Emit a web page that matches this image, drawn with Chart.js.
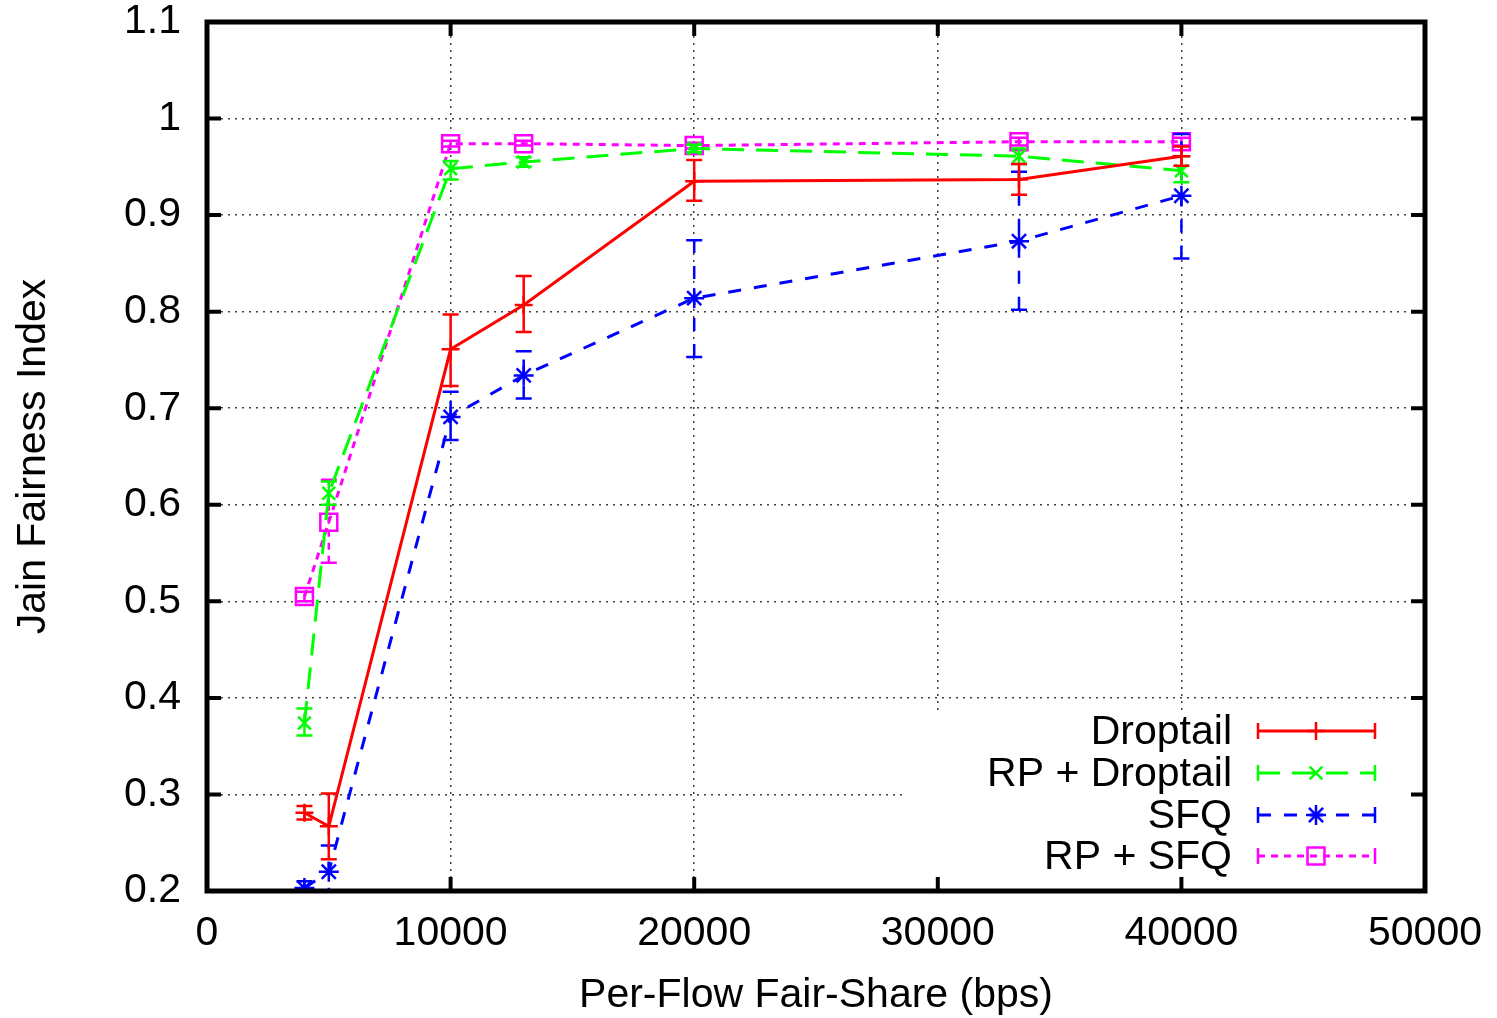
<!DOCTYPE html>
<html>
<head>
<meta charset="utf-8">
<script src="https://cdn.jsdelivr.net/npm/chart.js@4/dist/chart.umd.min.js"></script>
<style>
  html, body { margin: 0; padding: 0; background: #fff; }
  #wrap { width: 1497px; height: 1018px; }
</style>
</head>
<body>
<div id="wrap"><canvas id="chart"></canvas></div>
<script>
// Per-flow fair share (bps), x positions of all series
const fairShare = [4000, 5000, 10000, 13000, 20000, 33333, 40000];

// Droptail
const droptail   = [0.281, 0.267, 0.761, 0.807, 0.935, 0.937, 0.961];
const droptailLo = [0.274, 0.233, 0.723, 0.779, 0.915, 0.921, 0.951];
const droptailHi = [0.288, 0.301, 0.797, 0.837, 0.957, 0.953, 0.971];

// RP + Droptail
const rpDroptail   = [0.374, 0.612, 0.948, 0.955, 0.969, 0.961, 0.946];
const rpDroptailLo = [0.361, 0.600, 0.937, 0.950, 0.965, 0.953, 0.934];
const rpDroptailHi = [0.389, 0.624, 0.956, 0.960, 0.973, 0.969, 0.961];

// SFQ
const sfq   = [0.203, 0.220, 0.691, 0.734, 0.814, 0.873, 0.920];
const sfqLo = [0.196, 0.190, 0.667, 0.710, 0.753, 0.802, 0.855];
const sfqHi = [0.210, 0.247, 0.717, 0.759, 0.874, 0.945, 0.984];

// RP + SFQ
const rpSfq   = [0.505, 0.582, 0.974, 0.974, 0.972, 0.976, 0.976];
const rpSfqLo = [0.500, 0.540, 0.971, 0.972, 0.969, 0.972, 0.972];
const rpSfqHi = [0.510, 0.626, 0.977, 0.977, 0.975, 0.980, 0.980];

const seriesNames = ['Droptail', 'RP + Droptail', 'SFQ', 'RP + SFQ'];

const FONT = '"Liberation Sans", Arial, Helvetica, sans-serif';

function toPoints(ys) {
    return fairShare.map((x, i) => ({ x: x, y: ys[i] }));
}

function makeSet(label, ys, lo, hi, color, dash, style, radius) {
    return {
        label: label,
        data: toPoints(ys),
        errLo: lo,
        errHi: hi,
        borderColor: color,
        backgroundColor: color,
        borderWidth: 3,
        borderDash: dash,
        pointStyle: style,
        pointRadius: radius,
        pointHoverRadius: radius,
        pointBorderColor: color,
        pointBackgroundColor: 'rgba(0,0,0,0)',
        pointBorderWidth: 2.5,
        tension: 0,
        fill: false
    };
}

// error bars, drawn right after each line
const errorBars = {
    id: 'errorBars',
    afterDatasetDraw(chart, args) {
        const ds = chart.data.datasets[args.index];
        const { ctx, chartArea } = chart;
        const xs = chart.scales.x, ys = chart.scales.y;
        ctx.save();
        ctx.beginPath();
        ctx.rect(chartArea.left, chartArea.top, chartArea.right - chartArea.left, chartArea.bottom - chartArea.top);
        ctx.clip();
        ctx.strokeStyle = ds.borderColor;
        ctx.lineWidth = 2.5;
        ds.data.forEach((p, i) => {
            const x = xs.getPixelForValue(p.x);
            const y1 = ys.getPixelForValue(ds.errLo[i]);
            const y2 = ys.getPixelForValue(ds.errHi[i]);
            ctx.setLineDash(ds.borderDash || []);
            ctx.beginPath();
            ctx.moveTo(x, y1);
            ctx.lineTo(x, y2);
            ctx.stroke();
            ctx.setLineDash([]);
            ctx.beginPath();
            ctx.moveTo(x - 8, y1); ctx.lineTo(x + 8, y1);
            ctx.moveTo(x - 8, y2); ctx.lineTo(x + 8, y2);
            ctx.stroke();
        });
        ctx.restore();
    }
};

// frame, inner tick marks, key box
const frame = {
    id: 'frame',
    beforeDatasetsDraw(chart) {
        const { ctx, chartArea } = chart;
        // key area hides the grid
        ctx.save();
        ctx.fillStyle = '#fff';
        ctx.fillRect(903, 710, chartArea.right - 903, chartArea.bottom - 710);
        ctx.restore();
    },
    afterDraw(chart) {
        const { ctx, chartArea } = chart;
        const { left, right, top, bottom } = chartArea;
        ctx.save();
        ctx.strokeStyle = '#000';
        ctx.lineWidth = 4;
        ctx.setLineDash([]);
        ctx.beginPath();
        chart.scales.y.ticks.forEach(t => {
            const y = chart.scales.y.getPixelForValue(t.value);
            ctx.moveTo(left, y); ctx.lineTo(left + 14, y);
            ctx.moveTo(right, y); ctx.lineTo(right - 14, y);
        });
        chart.scales.x.ticks.forEach(t => {
            const x = chart.scales.x.getPixelForValue(t.value);
            ctx.moveTo(x, bottom); ctx.lineTo(x, bottom - 14);
            ctx.moveTo(x, top); ctx.lineTo(x, top + 14);
        });
        ctx.stroke();
        ctx.lineWidth = 5;
        ctx.strokeRect(left, top, right - left, bottom - top);

        // key
        const rowY = [731, 773, 815, 856];
        const textRight = 1232, x0 = 1258, x1 = 1375, xm = 1316;
        ctx.font = '41px ' + FONT;
        ctx.textAlign = 'right';
        ctx.textBaseline = 'middle';
        chart.data.datasets.forEach((ds, i) => {
            const y = rowY[i];
            ctx.fillStyle = '#000';
            ctx.fillText(ds.label, textRight, y + 2);
            ctx.strokeStyle = ds.borderColor;
            ctx.lineWidth = 3;
            ctx.setLineDash(ds.borderDash || []);
            ctx.beginPath();
            ctx.moveTo(x0, y); ctx.lineTo(x1, y);
            ctx.stroke();
            ctx.setLineDash([]);
            ctx.lineWidth = 2.5;
            ctx.beginPath();
            ctx.moveTo(x0, y - 8); ctx.lineTo(x0, y + 8);
            ctx.moveTo(x1, y - 8); ctx.lineTo(x1, y + 8);
            ctx.stroke();
            ctx.fillStyle = 'rgba(0,0,0,0)';
            Chart.helpers.drawPoint(ctx, {
                pointStyle: ds.pointStyle,
                radius: ds.pointRadius,
                borderWidth: 2.5,
                rotation: 0
            }, xm, y);
        });
        ctx.restore();
    }
};

const ctx = document.getElementById('chart').getContext('2d');
const chart = new Chart(ctx, {
    type: 'line',
    data: {
        datasets: [
            makeSet(seriesNames[0], droptail, droptailLo, droptailHi, '#ff0000', [], 'cross', 9),
            makeSet(seriesNames[1], rpDroptail, rpDroptailLo, rpDroptailHi, '#00ff00', [22, 12], 'crossRot', 9),
            makeSet(seriesNames[2], sfq, sfqLo, sfqHi, '#0000ff', [13, 13], 'star', 10),
            makeSet(seriesNames[3], rpSfq, rpSfqLo, rpSfqHi, '#ff00ff', [7, 6], 'rect', 12)
        ]
    },
    options: {
        responsive: true,
        maintainAspectRatio: false,
        animation: false,
        layout: { padding: 0 },
        plugins: {
            legend: { display: false },
            tooltip: { enabled: false }
        },
        scales: {
            x: {
                type: 'linear',
                min: 0,
                max: 50000,
                afterFit: s => {
                    s.height = 127;
                    s.paddingLeft = 0;
                    s.paddingRight = 72;
                },
                ticks: {
                    stepSize: 10000,
                    padding: 18,
                    color: '#000',
                    font: { family: FONT, size: 41 },
                    maxRotation: 0,
                    callback: v => String(v)
                },
                grid: {
                    color: 'rgba(0,0,0,0.75)',
                    lineWidth: 1.5,
                    drawTicks: false
                },
                border: { display: false, dash: [2, 5] },
                title: {
                    display: true,
                    text: 'Per-Flow Fair-Share (bps)',
                    color: '#000',
                    font: { family: FONT, size: 41, lineHeight: 1.1 },
                    padding: 0
                }
            },
            y: {
                min: 0.2,
                max: 1.1,
                afterFit: s => {
                    s.width = 207;
                    s.paddingTop = 22;
                    s.paddingBottom = 0;
                },
                ticks: {
                    stepSize: 0.1,
                    padding: 26,
                    color: '#000',
                    font: { family: FONT, size: 41 },
                    callback: v => String(Number(v.toFixed(1)))
                },
                grid: {
                    color: 'rgba(0,0,0,0.75)',
                    lineWidth: 1.5,
                    drawTicks: false
                },
                border: { display: false, dash: [2, 5] },
                title: {
                    display: true,
                    text: 'Jain Fairness Index',
                    color: '#000',
                    font: { family: FONT, size: 41, lineHeight: 1.1 },
                    padding: { top: 11, bottom: 0 }
                }
            }
        }
    },
    plugins: [errorBars, frame]
});
</script>
</body>
</html>
